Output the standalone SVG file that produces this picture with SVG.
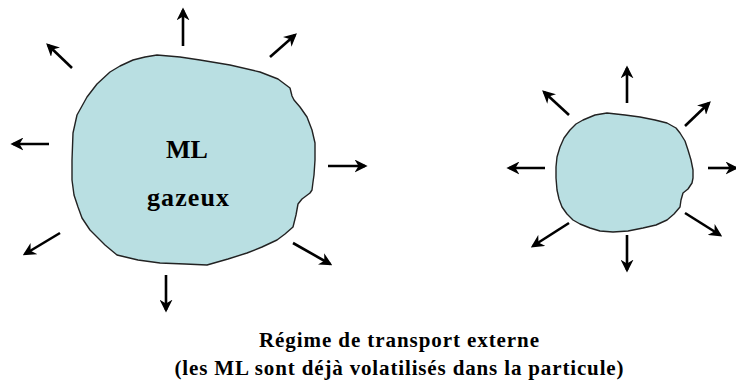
<svg xmlns="http://www.w3.org/2000/svg" width="736" height="382" viewBox="0 0 736 382">
<style>
.blob{fill:#b9dfe2;stroke:#222;stroke-width:1.4;stroke-linejoin:round}
.arr{stroke:#000;stroke-width:2.6;fill:none;marker-end:url(#ah)}
text{font-family:'Liberation Serif','Times New Roman',serif;font-weight:bold;fill:#000;text-anchor:middle}
</style>
<defs>
<marker id="ah" viewBox="0 0 10 10" refX="8" refY="5" markerWidth="5" markerHeight="5" orient="auto" markerUnits="strokeWidth">
<path d="M0,0 L10,5 L0,10 L3,5 Z" fill="#000"/>
</marker>
</defs>
<rect width="736" height="382" fill="#fff"/>
<g id="blob-large">
<path class="blob" d="M157,55 L180,57 L200,60 L230,65 L260,72 L278,79 L290,88 L292,96 L294,100 L300,107 L307,117 L312,130 L315,143 L315,160 L314,175 L313,182 L312,190 L310,193 L302,199 L298,204 L296,215 L293,227 L285,234 L277,240 L262,247 L247,253 L228,259 L207,265 L185,264 L160,263 L138,260 L117,255 L105,245 L90,230 L82,218 L78,207 L74,195 L72,180 L72,160 L73,133 L77,115 L87,97 L97,84 L110,72 L120,66 L133,60 L145,57 Z"/>
<text x="187" y="158" font-size="26">ML</text>
<text x="188" y="206" font-size="26" textLength="82" lengthAdjust="spacing">gazeux</text>
</g>
<g id="blob-small">
<path class="blob" d="M607,113 L625,115 L640,117 L655,120 L667,123 L676,128 L680,133 L685,141 L688,150 L691,160 L693,170 L693,178 L692,183 L688,189 L683,193 L681,200 L680,207 L674,214 L667,220 L656,225 L643,228 L628,231 L613,232 L600,231 L590,228 L580,224 L573,220 L567,214 L562,207 L559,199 L557,190 L556,178 L556,167 L557,157 L560,147 L564,138 L570,130 L576,124 L583,120 L595,115 Z"/>
</g>
<g id="connectors">
<line class="arr" x1="183" y1="46" x2="183" y2="10"/>
<line class="arr" x1="270" y1="57" x2="295" y2="35"/>
<line class="arr" x1="72" y1="68" x2="48" y2="45"/>
<line class="arr" x1="49" y1="144" x2="13" y2="144"/>
<line class="arr" x1="328" y1="166" x2="365" y2="166"/>
<line class="arr" x1="60" y1="233" x2="25" y2="254"/>
<line class="arr" x1="293" y1="243" x2="330" y2="264"/>
<line class="arr" x1="166" y1="275" x2="166" y2="310"/>
<line class="arr" x1="627" y1="103" x2="627" y2="68"/>
<line class="arr" x1="685" y1="126" x2="709" y2="103"/>
<line class="arr" x1="569" y1="115" x2="544" y2="92"/>
<line class="arr" x1="545" y1="168" x2="509" y2="168"/>
<line class="arr" x1="708" y1="168" x2="736" y2="168"/>
<line class="arr" x1="569" y1="223" x2="533" y2="246"/>
<line class="arr" x1="685" y1="213" x2="720" y2="235"/>
<line class="arr" x1="627" y1="235" x2="627" y2="270"/>
</g>
<g id="caption">
<text x="399" y="347" font-size="21" textLength="280" lengthAdjust="spacing">Régime de transport externe</text>
<text x="399" y="375" font-size="21" textLength="449" lengthAdjust="spacing">(les ML sont déjà volatilisés dans la particule)</text>
</g>
</svg>
